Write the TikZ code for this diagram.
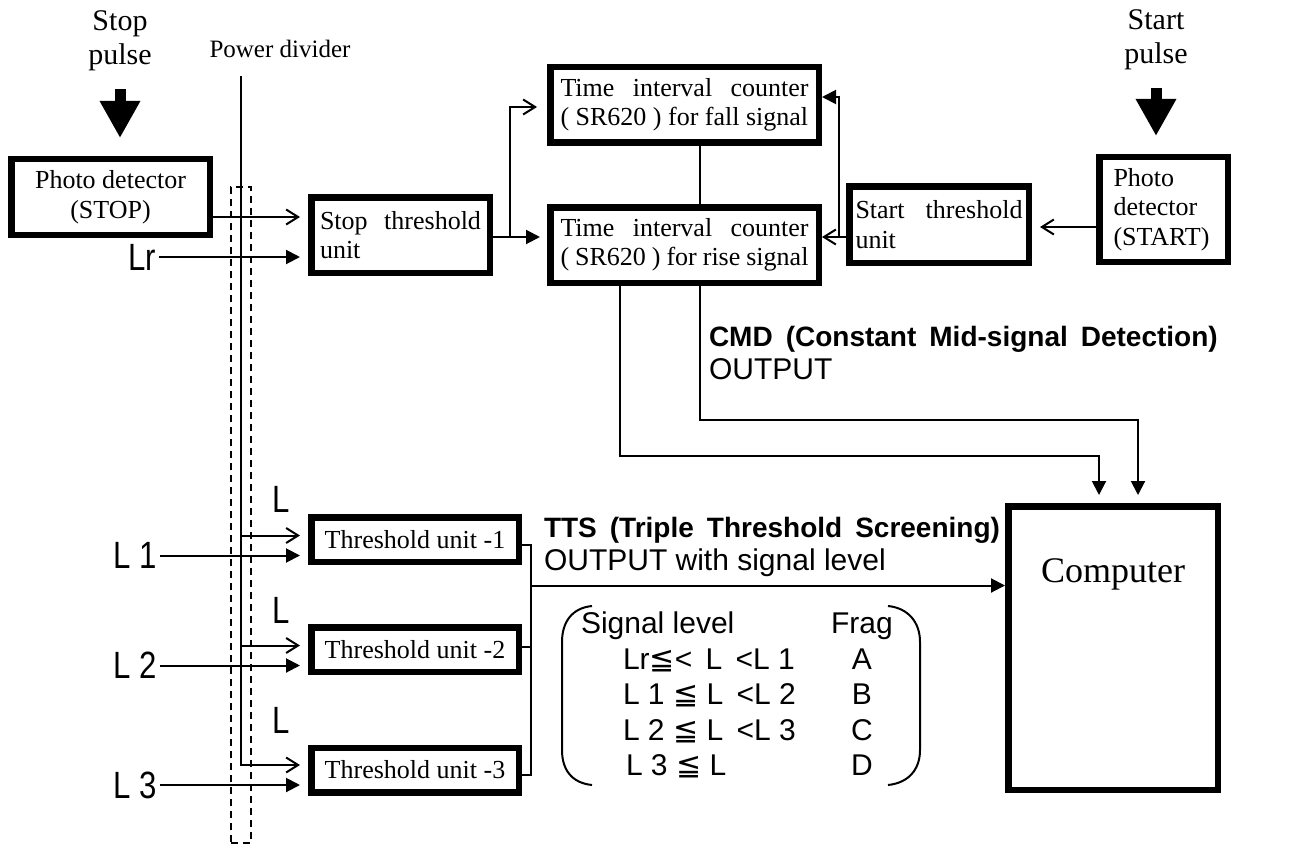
\documentclass[tikz,border=0pt]{standalone}
\usepackage{fontspec}
\usetikzlibrary{arrows.meta,calc}
\setmainfont{Liberation Serif}
\newfontfamily\gsans{Liberation Sans}
\newfontfamily\gsansN[FakeStretch=0.82]{Liberation Sans}
\newfontfamily\dvs{DejaVu Sans}
\newcommand\bxf{\fontsize{26}{29.5}\selectfont}
\newcommand\ttsb{\gsans\bfseries\fontsize{28}{33}\selectfont\spaceskip=13pt plus 2pt minus 1pt\relax}
\newcommand\ttsr{\gsans\fontsize{30}{33}\selectfont}
\begin{document}
\begin{tikzpicture}[x=1pt,y=-1pt,
  box/.style={draw, line width=6.5pt, fill=white, inner sep=0pt, font=\bxf},
  thin/.style={line width=2pt},
  aopen/.style={thin, -{Straight Barb[length=12pt,width=15pt]}},
  atri/.style={thin, -{Triangle[length=14pt,width=14pt]}},
  bigarrow/.style={line width=11pt, -{Triangle[length=37pt,width=38pt]}},
  lab/.style={font=\gsansN\fontsize{38}{40}\selectfont, inner sep=2pt},
  every path/.style={thin}]
\useasboundingbox (0,0) rectangle (1289,845);

% headings
\node[font=\fontsize{30}{34}\selectfont, align=center, inner sep=0pt] (stoppulse) at (120,41) {Stop\\pulse};
\node[font=\fontsize{30}{34}\selectfont, align=center, inner sep=0pt] (startpulse) at (1156,40) {Start\\pulse};
\node[font=\fontsize{25}{29}\selectfont, inner sep=0pt] (pdiv) at (280,48.5) {Power divider};

% power divider
\node[draw, thin, dash pattern=on 7pt off 5pt, minimum width=20pt, minimum height=656pt, inner sep=0pt, outer sep=0pt] (div) at (241,515) {};

% boxes
\node[box, minimum width=198.5pt, minimum height=75.5pt, align=center] (pdstop) at (110.5,197) {Photo detector\\(STOP)};
\node[box, minimum width=178.5pt, minimum height=75.5pt, text width=161pt, align=justify] (stopthr) at (400.5,235) {Stop threshold\linebreak unit};
\node[box, minimum width=268.5pt, minimum height=75.5pt, text width=248pt, align=justify] (fall) at (684.5,105) {Time interval counter\linebreak ( SR620 ) for fall signal};
\node[box, minimum width=268.5pt, minimum height=75.5pt, text width=248pt, align=justify] (rise) at (684.5,245) {Time interval counter\linebreak ( SR620 ) for rise signal};
\node[box, minimum width=179.5pt, minimum height=76.5pt, text width=167pt, align=justify] (startthr) at (939,224.5) {Start threshold\linebreak unit};
\node[box, minimum width=128.5pt, minimum height=104.5pt, text width=100pt, align=left] (pdstart) at (1163.5,209.5) {Photo\\detector\\(START)};
\node[box, minimum width=207.5pt, minimum height=44.5pt] (thr1) at (415,539.5) {Threshold unit -1};
\node[box, minimum width=207.5pt, minimum height=44.5pt] (thr2) at (415,649.5) {Threshold unit -2};
\node[box, minimum width=207.5pt, minimum height=44.5pt] (thr3) at (415,770) {Threshold unit -3};
\node[box, minimum width=209.5pt, minimum height=283.5pt] (comp) at (1113,648) {};
\node[font=\fontsize{36}{40}\selectfont, anchor=base, inner sep=0pt] (comptext) at (1113,582) {Computer};

% big pulse arrows
\draw[bigarrow, shorten <=17pt, shorten >=18pt] (stoppulse.south) -- (stoppulse.south |- pdstop.north);
\draw[bigarrow, shorten <=17pt, shorten >=18pt] (startpulse.south) -- (startpulse.south |- pdstart.north);

% labels
\node[lab] (lr) at (142,257) {Lr};
\node[lab] (l1) at (135.5,555.5) {L 1};
\node[lab] (l2) at (135.5,665.5) {L 2};
\node[lab] (l3) at (135.5,785) {L 3};
\node[lab] (la1) at (281,499) {L};
\node[lab] (la2) at (281,610) {L};
\node[lab] (la3) at (281,720) {L};

% stop side connectors
\coordinate (pdout) at ($(pdstop.east)+(0,20)$);
\draw[aopen, shorten >=8pt] (pdout) -- (pdout -| stopthr.west);
\draw[atri, shorten >=8pt] (lr.east) -- (lr.east -| stopthr.west);
\coordinate (so) at ($(stopthr.east)+(0,2)$);
\draw[atri, shorten >=7pt] (so) -- (so -| rise.west);
\coordinate (fin) at ($(fall.west)+(0,2)$);
\draw[aopen, shorten >=10pt] ($(so)+(17,0)$) |- (fin);
\draw ($(fall.south)+(15.5,0)$) -- ($(rise.north)+(15.5,0)$);

% start side connectors
\coordinate (psout) at ($(pdstart.west)+(0,17.5)$);
\draw[aopen, shorten >=8pt] (psout) -- (psout -| startthr.east);
\coordinate (stout) at ($(startthr.west)+(0,12.5)$);
\draw[aopen] (stout) -- (stout -| rise.east);
\coordinate (fin2) at ($(fall.east)+(0,-8)$);
\draw[atri] ($(stout)+(-7,0)$) |- (fin2);

% CMD outputs
\draw[atri, shorten >=8pt] ($(rise.south)+(-64.5,0)$) -- ++(0,170) -| ($(comp.north)+(-14,0)$);
\draw[atri, shorten >=8pt] ($(rise.south)+(15.5,0)$) -- ++(0,134) -| ($(comp.north)+(25,0)$);
\node[anchor=base west, inner sep=0pt, font=\ttsb] (cmd) at (708,346) {CMD (Constant Mid-signal Detection)};
\node[anchor=base west, inner sep=0pt, font=\ttsr] (cmdout) at (708,379) {OUTPUT};

% divider feeds
\coordinate (t1a) at ($(thr1.west)+(0,-4)$);
\coordinate (t2a) at ($(thr2.west)+(0,-4)$);
\coordinate (t3a) at ($(thr3.west)+(0,-5)$);
\draw[aopen, shorten <=18pt, shorten >=8pt] (pdiv.south -| div.north) |- (t3a);
\draw[aopen, shorten >=8pt] (t1a -| div.north) -- (t1a);
\draw[aopen, shorten >=8pt] (t2a -| div.north) -- (t2a);
\draw[atri, shorten >=8pt] (l1.east) -- (l1.east -| thr1.west);
\draw[atri, shorten >=8pt] (l2.east) -- (l2.east -| thr2.west);
\draw[atri, shorten >=8pt] (l3.east) -- (l3.east -| thr3.west);

% TTS outputs
\coordinate (o1) at ($(thr1.east)+(0,5)$);
\coordinate (o2) at ($(thr2.east)+(0,-3)$);
\coordinate (o3) at ($(thr3.east)+(0,5)$);
\draw (o1) -- ++(9,0) |- (o3);
\draw (o2) -- ++(9,0);
\coordinate (tj) at ($(o1)+(9,41)$);
\draw[atri] (tj) -- (tj -| comp.west);
\node[anchor=base west, inner sep=0pt, font=\ttsb] (tts) at (543,537) {TTS (Triple Threshold Screening)};
\node[anchor=base west, inner sep=0pt, font=\ttsr] (ttsout) at (543,570) {OUTPUT with signal level};

% table
\node[anchor=north west, inner sep=0pt, font=\gsans\fontsize{30}{35.5}\selectfont] (tbl) at (580,608)
 {\begin{tabular}{@{}p{250pt}@{}c@{}}
 Signal level & Frag\\
 \hspace*{42pt}Lr{\dvs ≦}<\, L \,<L 1 & A\\
 \hspace*{42pt}L 1 {\dvs ≦} L \,<L 2 & B\\
 \hspace*{42pt}L 2 {\dvs ≦} L \,<L 3 & C\\
 \hspace*{45pt}L 3 {\dvs ≦} L & D
 \end{tabular}};
\draw (592,606) .. controls (572,608) and (562,622) .. (562,642) -- (562,750) .. controls (562,770) and (572,783) .. (592,785);
\draw (888,606) .. controls (908,608) and (920,622) .. (920,642) -- (920,750) .. controls (920,770) and (908,783) .. (888,785);
\end{tikzpicture}
\end{document}
